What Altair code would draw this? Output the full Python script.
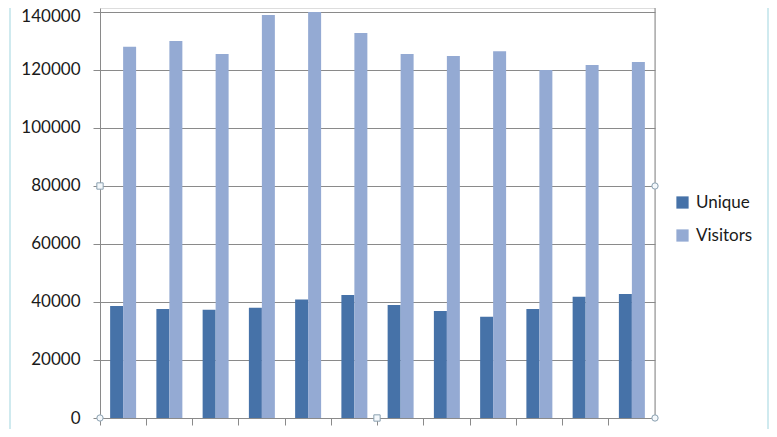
import altair as alt
import pandas as pd

months = ["Jan", "Feb", "Mar", "Apr", "May", "Jun", "Jul", "Aug", "Sep", "Oct", "Nov", "Dec"]
unique = [38600, 37600, 37300, 38000, 40900, 42400, 39000, 36900, 34900, 37600, 41800, 42800]
visitors = [128000, 130000, 125500, 139000, 140000, 132800, 125500, 124800, 126500, 120000, 121700, 122800]
series = ["Unique", "Visitors"]
colors = ["#4672A8", "#94AAD3"]
y_ticks = [0, 20000, 40000, 60000, 80000, 100000, 120000, 140000]

rows = []
for m, u, v in zip(months, unique, visitors):
    rows.append({"month": m, "series": "Unique", "value": u})
    rows.append({"month": m, "series": "Visitors", "value": v})
df = pd.DataFrame(rows)

FONT = "Lato"
W, H = 555, 410

bars = alt.Chart(df).mark_bar().encode(
    x=alt.X("month:N", sort=months, title=None,
            scale=alt.Scale(paddingInner=0, paddingOuter=0),
            axis=alt.Axis(labels=False, bandPosition=0, tickSize=7, tickColor="#8a8a8a",
                          domainColor="#8a8a8a", grid=False)),
    xOffset=alt.XOffset("series:N", sort=series,
                        scale=alt.Scale(paddingInner=0, paddingOuter=0.78)),
    y=alt.Y("value:Q", title=None,
            scale=alt.Scale(domain=[0, 141379], nice=False, zero=True),
            axis=alt.Axis(values=y_ticks, format="d", tickSize=7, tickColor="#8a8a8a",
                          domainColor="#8a8a8a", gridColor="#8a8a8a", gridOpacity=1,
                          labelFont=FONT, labelFontSize=17, labelColor="#1a1a1a",
                          labelPadding=13,
                          labelOffset=alt.ExprRef("datum.value == 140000 ? 5 : 0"))),
    color=alt.Color("series:N", sort=series,
                    scale=alt.Scale(domain=series, range=colors),
                    legend=alt.Legend(title=None, orient="none", legendX=574, legendY=186,
                                      symbolType="square", symbolSize=150,
                                      symbolStrokeWidth=0, labelFont=FONT,
                                      labelFontSize=17, labelColor="#1a1a1a",
                                      rowPadding=15, labelOffset=5)),
)

# right edge of plot area (vertical line)
right_edge = alt.Chart().mark_rule(color="#8a8a8a", strokeWidth=1).encode(
    x=alt.value(W), y=alt.value(0), y2=alt.value(H))

# window frame lines
frame_l = alt.Chart().mark_rule(color="#bfe3ea", strokeWidth=1.5).encode(
    x=alt.value(-90), y=alt.value(-8), y2=alt.value(H + 19))
frame_r = alt.Chart().mark_rule(color="#bfe3ea", strokeWidth=1.5).encode(
    x=alt.value(668), y=alt.value(-8), y2=alt.value(H + 19))

# selection handles
def handle(px, py, shape):
    return alt.Chart().mark_point(shape=shape, size=40, filled=True, fill="#f4f8fb",
                                  stroke="#8aa0b0", strokeWidth=1, opacity=1).encode(
        x=alt.value(px), y=alt.value(py))

handles = [handle(0, 178, "square"), handle(W, 178, "circle"), handle(0, H, "circle"),
           handle(277, H, "square"), handle(W, H, "circle")]

chart = alt.layer(frame_l, frame_r, bars, right_edge, *handles).properties(
    width=W, height=H,
    autosize=alt.AutoSizeParams(type="none"),
    padding={"left": 92, "top": 0, "right": 114, "bottom": 11},
).configure_view(stroke=None).configure(background="white")

chart.save("out.html", embed_options={"renderer": "svg", "actions": False})
